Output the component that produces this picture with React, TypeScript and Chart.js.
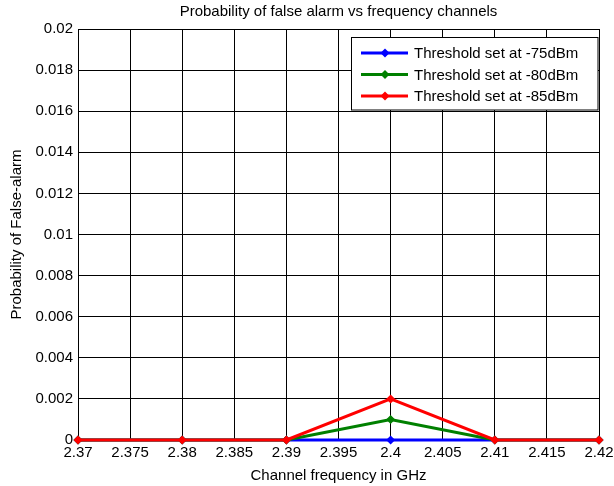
import React, { useEffect, useRef } from "react";
import { Chart, registerables } from "chart.js";

Chart.register(...registerables);

const chartTitle = "Probability of false alarm vs frequency channels";
const xAxisTitle = "Channel frequency in GHz";
const yAxisTitle = "Probability of False-alarm";

const frequencies = [2.37, 2.38, 2.39, 2.4, 2.41, 2.42];
const seriesNames = ["Threshold set at -75dBm", "Threshold set at -80dBm", "Threshold set at -85dBm"];
const seriesColors = ["#0000ff", "#008000", "#ff0000"];
const threshold75 = [0, 0, 0, 0, 0, 0];
const threshold80 = [0, 0, 0, 0.001, 0, 0];
const threshold85 = [0, 0, 0, 0.002, 0, 0];

const xTicks = [2.37, 2.375, 2.38, 2.385, 2.39, 2.395, 2.4, 2.405, 2.41, 2.415, 2.42];
const xTickLabels = ["2.37", "2.375", "2.38", "2.385", "2.39", "2.395", "2.4", "2.405", "2.41", "2.415", "2.42"];
const yTicks = [0, 0.002, 0.004, 0.006, 0.008, 0.01, 0.012, 0.014, 0.016, 0.018, 0.02];
const yTickLabels = ["0", "0.002", "0.004", "0.006", "0.008", "0.01", "0.012", "0.014", "0.016", "0.018", "0.02"];

const FONT = '"Liberation Sans", Arial, sans-serif';

export default function App() {
  const ref = useRef<HTMLCanvasElement | null>(null);

  useEffect(() => {
    const canvas = ref.current;
    if (!canvas) return;
    const seriesValues = [threshold75, threshold80, threshold85];

    const decorPlugin = {
      id: "decor",
      beforeDraw(chart: any) {
        const ctx = chart.ctx;
        ctx.save();
        ctx.fillStyle = "#ffffff";
        ctx.fillRect(0, 0, chart.width, chart.height);
        ctx.restore();
      },
      afterDraw(chart: any) {
        const ctx = chart.ctx;
        const area = chart.chartArea;
        ctx.save();
        // title
        ctx.fillStyle = "#000";
        ctx.font = `15px ${FONT}`;
        ctx.textAlign = "center";
        ctx.textBaseline = "middle";
        ctx.fillText(chartTitle, (area.left + area.right) / 2, 12);
        // legend
        const bx = 351.5, by = 37.5, bw = 246.5, bh = 72.5;
        ctx.fillStyle = "#fff";
        ctx.fillRect(bx, by, bw, bh);
        ctx.strokeStyle = "#000";
        ctx.lineWidth = 1;
        ctx.strokeRect(bx, by, bw, bh);
        const rows = [53, 74.5, 96];
        seriesNames.forEach((name, i) => {
          const y = rows[i];
          ctx.strokeStyle = seriesColors[i];
          ctx.lineWidth = 3;
          ctx.beginPath();
          ctx.moveTo(361, y);
          ctx.lineTo(408, y);
          ctx.stroke();
          ctx.fillStyle = seriesColors[i];
          ctx.beginPath();
          ctx.moveTo(385, y - 4.5);
          ctx.lineTo(389.5, y);
          ctx.lineTo(385, y + 4.5);
          ctx.lineTo(380.5, y);
          ctx.closePath();
          ctx.fill();
          ctx.fillStyle = "#000";
          ctx.font = `15px ${FONT}`;
          ctx.textAlign = "left";
          ctx.textBaseline = "middle";
          ctx.fillText(name, 414, y + 1);
        });
        ctx.restore();
      },
    };

    const datasets = seriesNames.map((name, i) => ({
      label: name,
      data: frequencies.map((f, j) => ({ x: f, y: seriesValues[i][j] })),
      borderColor: seriesColors[i],
      backgroundColor: seriesColors[i],
      borderWidth: 3,
      pointStyle: "rectRot" as const,
      pointRadius: 4.5,
      pointBorderWidth: 0,
      pointBackgroundColor: seriesColors[i],
      tension: 0,
      clip: false as any,
      order: 2 - i,
    }));

    const chart = new Chart(canvas, {
      type: "line",
      data: { datasets },
      plugins: [decorPlugin],
      options: {
        animation: false,
        responsive: false,
        devicePixelRatio: 1,
        layout: { padding: { top: 29, right: 15, left: 0, bottom: 0 } },
        plugins: {
          legend: { display: false },
          title: { display: false },
          tooltip: { enabled: false },
        },
        scales: {
          x: {
            type: "linear",
            min: 2.37,
            max: 2.42,
            afterBuildTicks: (scale: any) => {
              scale.ticks = xTicks.map((v) => ({ value: v }));
            },
            afterFit: (scale: any) => {
              scale.height = 46;
              scale.paddingRight = 0;
              scale.paddingLeft = 0;
            },
            ticks: {
              color: "#000",
              font: { family: FONT, size: 15 },
              padding: 4,
              maxRotation: 0,
              autoSkip: false,
              callback: (_v: any, idx: number) => xTickLabels[idx],
            },
            grid: { color: "#000", lineWidth: 1, drawTicks: false },
            border: { color: "#000", width: 1 },
            title: {
              display: true,
              text: xAxisTitle,
              color: "#000",
              font: { family: FONT, size: 15 },
              padding: { top: 0, bottom: 1 },
            },
          },
          y: {
            type: "linear",
            min: 0,
            max: 0.02,
            afterBuildTicks: (scale: any) => {
              scale.ticks = yTicks.map((v) => ({ value: v }));
            },
            afterFit: (scale: any) => {
              scale.width = 78;
            },
            ticks: {
              color: "#000",
              font: { family: FONT, size: 15 },
              padding: 5,
              autoSkip: false,
              callback: (_v: any, idx: number) => yTickLabels[idx],
            },
            grid: { color: "#000", lineWidth: 1, drawTicks: false },
            border: { color: "#000", width: 1 },
            title: {
              display: true,
              text: yAxisTitle,
              color: "#000",
              font: { family: FONT, size: 15 },
              padding: { top: 8, bottom: 0 },
            },
          },
        },
      },
    } as any);

    return () => chart.destroy();
  }, []);

  return (
    <div style={{ position: "fixed", left: 0, top: 0, width: 614, height: 486, background: "#fff" }}>
      <canvas ref={ref} width={614} height={486} style={{ width: 614, height: 486, display: "block" }} />
    </div>
  );
}
